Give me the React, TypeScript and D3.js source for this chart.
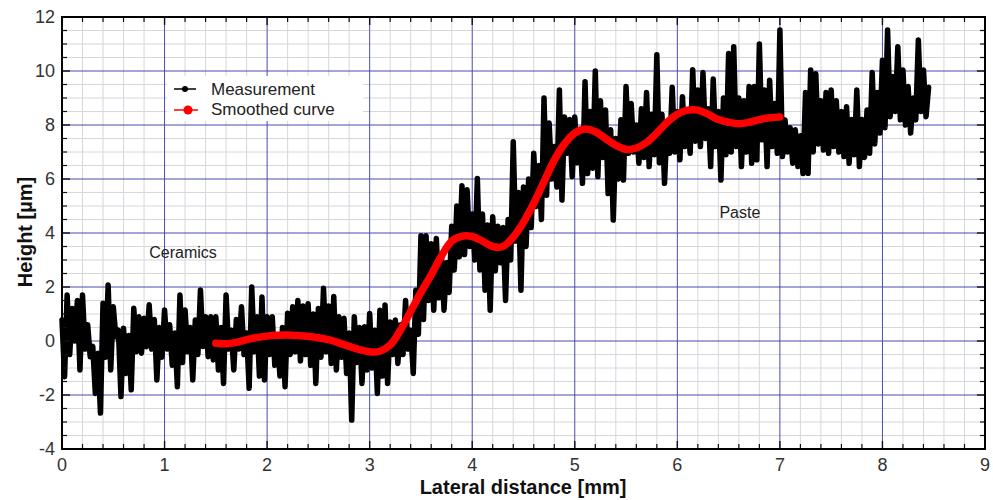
import React from 'react';
import * as d3 from 'd3';

const W = 993;
const H = 500;
const PLOT = { left: 62, right: 985, top: 17, bottom: 449 };

const xTickValues = [0, 1, 2, 3, 4, 5, 6, 7, 8, 9];
const yTickValues = [-4, -2, 0, 2, 4, 6, 8, 10, 12];

// Measurement: upper / lower extremes read per 0.05 mm bin
const binWidth = 0.05;
const measHigh = [
  0.78, 1.7, 1.2, 1.5, 1.7, 0.6, -0.2, -0.45, 1.4, 2.07,
  1.27, 0.4, 0.47, 0.2, 1.21, 0.9, 0.84, 1.34, 0.8, 0.5,
  1.15, 0.6, 0.3, 1.7, 1.15, 0.5, 0.78, 1.89, 0.9, 0.9,
  0.9, 0.5, 1.7, 0.4, 0.8, 1.27, 0.3, 2.0, 0.9, 1.63,
  0.9, 0.9, 0.2, 0.5, 1.03, 1.27,
  1.5, 1.3, 1.38, 1.0, 1.2, 1.95, 1.3, 1.65, 0.9, 0.84,
  0.3, 0.9, 0.5, 0.53, 1.02, 0.4, 1.14, 1.33, 0.7, 0.78,
  0.6, 1.5, 0.4, 1.88, 3.9, 3.9, 3.6, 3.8, 3.2, 2.9,
  4.25, 5.0, 5.75, 5.6, 4.7, 6.02, 4.7, 4.3, 4.6, 4.25,
  4.2, 4.5, 7.38, 5.5,
  5.7, 6.0, 6.95, 6.5, 9.0, 8.07, 7.2, 9.3, 8.3, 8.2,
  8.3, 7.6, 9.6, 8.5, 10.0, 8.9, 8.56, 7.82, 7.5, 8.19,
  9.43, 8.8, 8.0, 8.6, 9.2, 8.4, 10.6, 8.4, 8.0, 9.4,
  8.5, 9.05, 8.4, 10.05, 9.3, 9.94, 8.6, 9.7, 8.5, 9.0,
  10.65, 10.9, 9.0, 8.9, 9.43,
  9.43, 11.0, 9.3, 9.66, 8.8, 11.52, 8.19, 7.9, 7.82, 7.6,
  9.2, 10.04, 9.9, 8.9, 9.2, 9.3, 8.9, 8.5, 8.68, 8.2,
  9.3, 8.2, 8.56, 9.94, 9.2, 10.4, 11.52, 9.8, 10.9, 10.04,
  9.43, 9.0, 11.15, 10.04,
];
const measLow = [
  -1.32, -0.5, 0, -1.07, -0.3, -0.58, -1.94, -2.67, -0.6, -1.07,
  0.16, -2.06, -1.2, -1.81, -0.4, -0.45, -0.21, -0.3, -1.44, -0.6,
  -0.3, -0.9, -1.69, -0.8, -0.4, -1.44, -0.5, -0.2, -0.58, -0.7,
  -1.07, -1.57, -0.3, -1.07, -0.3, -0.5, -1.75, -0.4, -1.3, -1.44,
  -0.5, -0.9, -1.3, -1.69, -0.5, -0.4,
  -0.74, -0.5, -0.9, -1.57, -0.6, -0.4, -0.83, -1.07, -0.6, -1.2,
  -2.93, -0.8, -1.57, -1.07, -1.0, -1.94, -1.3, -1.57, -0.5, -0.83,
  -0.5, -0.3, -1.2, 0.25, 0.8, 1.5, 1.14, 1.6, 1.14, 1.8,
  2.63, 3.12, 3.2, 3.5, 3.0, 2.63, 1.88, 1.14, 2.6, 2.9,
  1.5, 3.0, 3.7, 1.88,
  3.5, 4.2, 4.98, 4.5, 5.4, 6.0, 5.7, 5.22, 6.95, 6.09,
  6.6, 5.84, 6.2, 6.4, 6.09, 6.8, 5.46, 4.48, 6.0, 5.96,
  6.95, 7.0, 6.58, 6.8, 6.46, 6.9, 6.6, 5.84, 6.95, 7.0,
  6.71, 7.2, 6.95, 7.4, 7.2, 7.5, 6.46, 7.2, 5.96, 6.9,
  7.0, 7.2, 6.46, 7.0, 6.58,
  6.71, 7.45, 6.46, 7.2, 6.95, 6.83, 7.0, 6.58, 6.46, 6.2,
  6.21, 7.0, 7.3, 7.07, 6.95, 7.2, 7.0, 6.83, 6.58, 6.9,
  6.46, 6.8, 6.95, 7.3, 7.7, 7.9, 8.31, 8.5, 8.19, 8.0,
  7.7, 8.19, 8.5, 8.31,
];
const measEndX = 8.45;
const measEndY = 9.4;

// Smoothed curve
const smoothX = [
  1.5, 1.6, 1.7, 1.8, 1.9, 2.0, 2.1, 2.2, 2.3, 2.4, 2.5, 2.6, 2.7, 2.8, 2.9,
  3.0, 3.1, 3.2, 3.3, 3.4, 3.5, 3.6, 3.7, 3.8, 3.9, 4.0, 4.1, 4.2, 4.3, 4.4,
  4.5, 4.6, 4.7, 4.8, 4.9, 5.0, 5.1, 5.2, 5.3, 5.4, 5.5, 5.6, 5.7, 5.8, 5.9,
  6.0, 6.1, 6.2, 6.3, 6.4, 6.5, 6.6, 6.7, 6.8, 6.9, 7.0,
];
const smoothY = [
  -0.08, -0.1, -0.05, 0.05, 0.13, 0.18, 0.21, 0.22, 0.2, 0.17, 0.12, 0.05, -0.07, -0.2, -0.32,
  -0.4, -0.38, -0.15, 0.4, 1.1, 1.8, 2.45, 3.15, 3.7, 3.88, 3.87, 3.7, 3.5, 3.5, 3.85,
  4.4, 5.1, 5.9, 6.7, 7.3, 7.7, 7.85, 7.75, 7.5, 7.25, 7.1, 7.15, 7.35, 7.7, 8.1,
  8.4, 8.55, 8.55, 8.4, 8.2, 8.1, 8.05, 8.1, 8.2, 8.27, 8.3,
];

const legendLabels = ['Measurement', 'Smoothed curve'];
const annotations = [
  { text: 'Ceramics', x: 1.18, y: 3.07 },
  { text: 'Paste', x: 6.61, y: 4.55 },
];

const FONT = "'Liberation Sans', Arial, Helvetica, sans-serif";

export default function App() {
  const x = d3.scaleLinear().domain([0, 9]).range([PLOT.left, PLOT.right]);
  const y = d3.scaleLinear().domain([-4, 12]).range([PLOT.bottom, PLOT.top]);

  const measPts: [number, number][] = [];
  measHigh.forEach((h, i) => {
    measPts.push([i * binWidth, h]);
    measPts.push([i * binWidth + binWidth / 2, measLow[i]]);
  });
  measPts.push([measEndX, measEndY]);

  const line = d3
    .line<[number, number]>()
    .x((d) => x(d[0]))
    .y((d) => y(d[1]));
  const smoothLine = d3
    .line<[number, number]>()
    .x((d) => x(d[0]))
    .y((d) => y(d[1]))
    .curve(d3.curveCatmullRom.alpha(0.5));
  const smoothPts: [number, number][] = smoothX.map((v, i) => [v, smoothY[i]]);

  const xMinor = d3.range(0, 9.0001, 0.2).filter((v) => Math.abs(v - Math.round(v)) > 1e-6);
  const yMinor = d3.range(-4, 12.0001, 0.5).filter((v) => Math.abs(v / 2 - Math.round(v / 2)) > 1e-6);

  const gridMajor = '#4b4bb0';
  const gridMinor = '#d6d6de';

  return (
    <svg width={W} height={H} style={{ display: 'block', position: 'absolute', left: 0, top: 0 }}>
      <rect x={0} y={0} width={W} height={H} fill="#ffffff" />
      {/* minor grid */}
      {xMinor.map((v) => (
        <line key={'xm' + v} x1={x(v)} x2={x(v)} y1={PLOT.top} y2={PLOT.bottom} stroke={gridMinor} strokeWidth={1} />
      ))}
      {yMinor.map((v) => (
        <line key={'ym' + v} x1={PLOT.left} x2={PLOT.right} y1={y(v)} y2={y(v)} stroke={gridMinor} strokeWidth={1} />
      ))}
      {/* major grid */}
      {xTickValues.map((v) => (
        <line key={'xg' + v} x1={x(v)} x2={x(v)} y1={PLOT.top} y2={PLOT.bottom} stroke={gridMajor} strokeWidth={1} />
      ))}
      {yTickValues.map((v) => (
        <line key={'yg' + v} x1={PLOT.left} x2={PLOT.right} y1={y(v)} y2={y(v)} stroke={gridMajor} strokeWidth={1} />
      ))}

      {/* legend background */}
      <rect x={167} y={76} width={196} height={45} fill="#ffffff" />

      {/* measurement */}
      <path d={line(measPts) || ''} fill="none" stroke="#000" strokeWidth={5.5} strokeLinejoin="round" strokeLinecap="round" />
      {/* smoothed */}
      <path d={smoothLine(smoothPts) || ''} fill="none" stroke="#ff0000" strokeWidth={7.5} strokeLinecap="round" strokeLinejoin="round" />

      {/* ticks: bottom/top */}
      {xMinor.map((v) => (
        <g key={'xt' + v}>
          <line x1={x(v)} x2={x(v)} y1={PLOT.bottom} y2={PLOT.bottom - 5} stroke="#111" strokeWidth={1.2} />
          <line x1={x(v)} x2={x(v)} y1={PLOT.top} y2={PLOT.top + 5} stroke="#111" strokeWidth={1.2} />
        </g>
      ))}
      {xTickValues.map((v) => (
        <g key={'xT' + v}>
          <line x1={x(v)} x2={x(v)} y1={PLOT.bottom} y2={PLOT.bottom - 8} stroke="#111" strokeWidth={1.4} />
          <line x1={x(v)} x2={x(v)} y1={PLOT.top} y2={PLOT.top + 8} stroke="#111" strokeWidth={1.4} />
        </g>
      ))}
      {yMinor.map((v) => (
        <g key={'yt' + v}>
          <line x1={PLOT.left} x2={PLOT.left + 5} y1={y(v)} y2={y(v)} stroke="#111" strokeWidth={1.2} />
          <line x1={PLOT.right} x2={PLOT.right - 5} y1={y(v)} y2={y(v)} stroke="#111" strokeWidth={1.2} />
        </g>
      ))}
      {yTickValues.map((v) => (
        <g key={'yT' + v}>
          <line x1={PLOT.left} x2={PLOT.left + 8} y1={y(v)} y2={y(v)} stroke="#111" strokeWidth={1.4} />
          <line x1={PLOT.right} x2={PLOT.right - 8} y1={y(v)} y2={y(v)} stroke="#111" strokeWidth={1.4} />
        </g>
      ))}

      {/* frame */}
      <rect x={PLOT.left} y={PLOT.top} width={PLOT.right - PLOT.left} height={PLOT.bottom - PLOT.top} fill="none" stroke="#000" strokeWidth={2} />

      {/* tick labels */}
      {xTickValues.map((v) => (
        <text key={'xl' + v} x={x(v)} y={471} textAnchor="middle" fontFamily={FONT} fontSize={18} fill="#333">
          {v}
        </text>
      ))}
      {yTickValues.map((v) => (
        <text key={'yl' + v} x={55} y={y(v)} dy="0.36em" textAnchor="end" fontFamily={FONT} fontSize={18} fill="#333">
          {v}
        </text>
      ))}

      {/* axis titles */}
      <text x={523} y={494} textAnchor="middle" fontFamily={FONT} fontSize={20} fontWeight="bold" fill="#111">
        Lateral distance [mm]
      </text>
      <text
        transform={`translate(32, 232) rotate(-90)`}
        textAnchor="middle"
        fontFamily={FONT}
        fontSize={20}
        fontWeight="bold"
        fill="#111"
      >
        Height [µm]
      </text>

      {/* legend */}
      <line x1={174} x2={196} y1={89} y2={89} stroke="#000" strokeWidth={1.5} />
      <circle cx={185} cy={89} r={3} fill="#000" />
      <text x={211} y={95} fontFamily={FONT} fontSize={17} fill="#222">
        {legendLabels[0]}
      </text>
      <line x1={174} x2={198} y1={110} y2={110} stroke="#ff0000" strokeWidth={1.5} />
      <circle cx={188} cy={110} r={4.5} fill="#ff0000" />
      <text x={211} y={115} fontFamily={FONT} fontSize={17} fill="#222">
        {legendLabels[1]}
      </text>

      {/* annotations */}
      {annotations.map((a) => (
        <text key={a.text} x={x(a.x)} y={y(a.y)} textAnchor="middle" fontFamily={FONT} fontSize={16} fill="#222">
          {a.text}
        </text>
      ))}
    </svg>
  );
}
